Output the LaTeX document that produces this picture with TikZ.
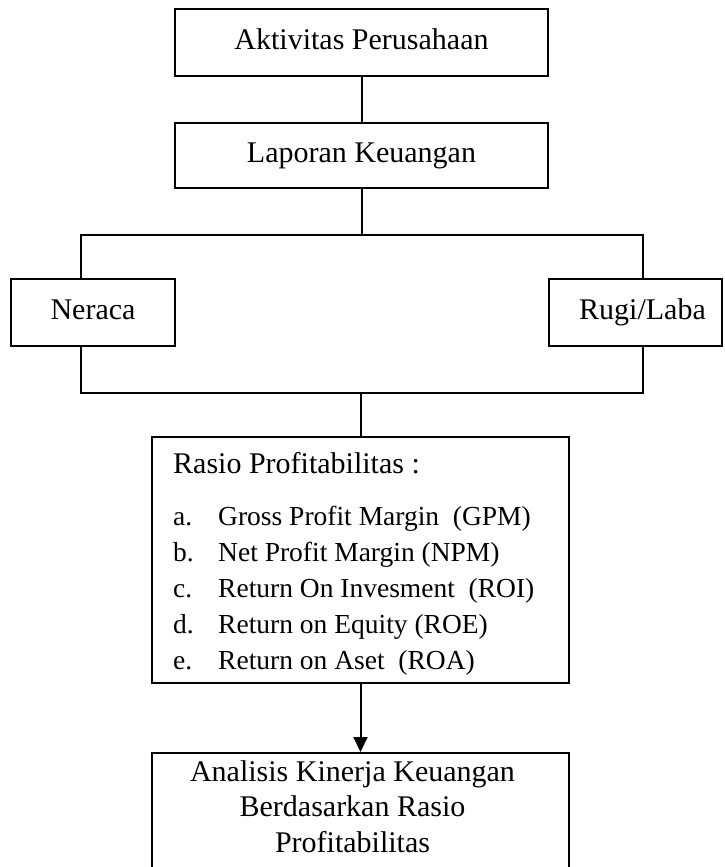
\documentclass[tikz,border=0pt]{standalone}
\usepackage{fontspec}
\setmainfont{Liberation Serif}
\usetikzlibrary{arrows.meta}
\begin{document}
\begin{tikzpicture}[x=1pt,y=-1pt,
  box/.style={draw, line width=2pt, inner sep=0pt, font=\fontsize{30}{36}\selectfont, text height=21pt, text depth=7.5pt},
  conn/.style={line width=2pt, line join=miter},
  txt/.style={inner sep=0pt, font=\fontsize{30}{36}\selectfont, anchor=base},
  lbl/.style={inner sep=0pt, font=\fontsize{27.5}{33}\selectfont, anchor=base west}]
\clip (0,0) rectangle (724,867);
\fill[white] (0,0) rectangle (724,867);
% boxes
\node[box, minimum width=373pt, minimum height=67pt] (akt) at (361.5,42.5) {Aktivitas Perusahaan};
\node[box, minimum width=373pt, minimum height=65pt] (lap) at (361.5,155.5) {Laporan Keuangan};
\node[box, minimum width=164pt, minimum height=67pt] (ner) at (93,312.5) {Neraca};
\node[box, minimum width=173pt, minimum height=67pt] (rl) at (635.5,312.5) {\hspace*{14pt}Rugi/Laba};
\node[draw, line width=2pt, minimum width=417pt, minimum height=246pt, inner sep=0pt] (rp) at (360.5,560) {};
\node[draw, line width=2pt, minimum width=417pt, minimum height=180pt, inner sep=0pt, anchor=north] (an) at (360.5,752) {};
% texts of the ratio box
\node[txt, anchor=base west] (rph) at (173,473) {Rasio Profitabilitas :};
\node[lbl] (la) at (173,525) {a.};
\node[lbl] (ta) at (218,525) {Gross Profit Margin\ \ (GPM)};
\node[lbl] (lb) at (173,561) {b.};
\node[lbl] (tb) at (218,561) {Net Profit Margin (NPM)};
\node[lbl] (lc) at (173,597) {c.};
\node[lbl] (tc) at (218,597) {Return On Invesment\ \ (ROI)};
\node[lbl] (ld) at (173,633) {d.};
\node[lbl] (td) at (218,633) {Return on Equity (ROE)};
\node[lbl] (le) at (173,669) {e.};
\node[lbl] (te) at (218,669) {Return on Aset\ \ (ROA)};
% texts of the analysis box
\node[txt] (an1) at (352.5,781) {Analisis Kinerja Keuangan};
\node[txt] (an2) at (352.5,816.5) {Berdasarkan Rasio};
\node[txt] (an3) at (352.5,852) {Profitabilitas};
% connectors
\coordinate (bl) at (81,235);
\coordinate (br) at (643,235);
\coordinate (jl) at (81,393);
\coordinate (jr) at (643,393);
\draw[conn] (akt.south) -- (lap.north);
\draw[conn] (lap.south) -- (lap.south |- bl);
\draw[conn] (ner.north -| bl) -- (bl) -- (br) -- (rl.north -| br);
\draw[conn] (ner.south -| jl) -- (jl) -- (jr) -- (rl.south -| jr);
\draw[conn] (jl -| rp.north) -- (rp.north);
\draw[conn, -{Triangle[width=14pt,length=15pt]}] (rp.south) -- (an.north);
\end{tikzpicture}
\end{document}
